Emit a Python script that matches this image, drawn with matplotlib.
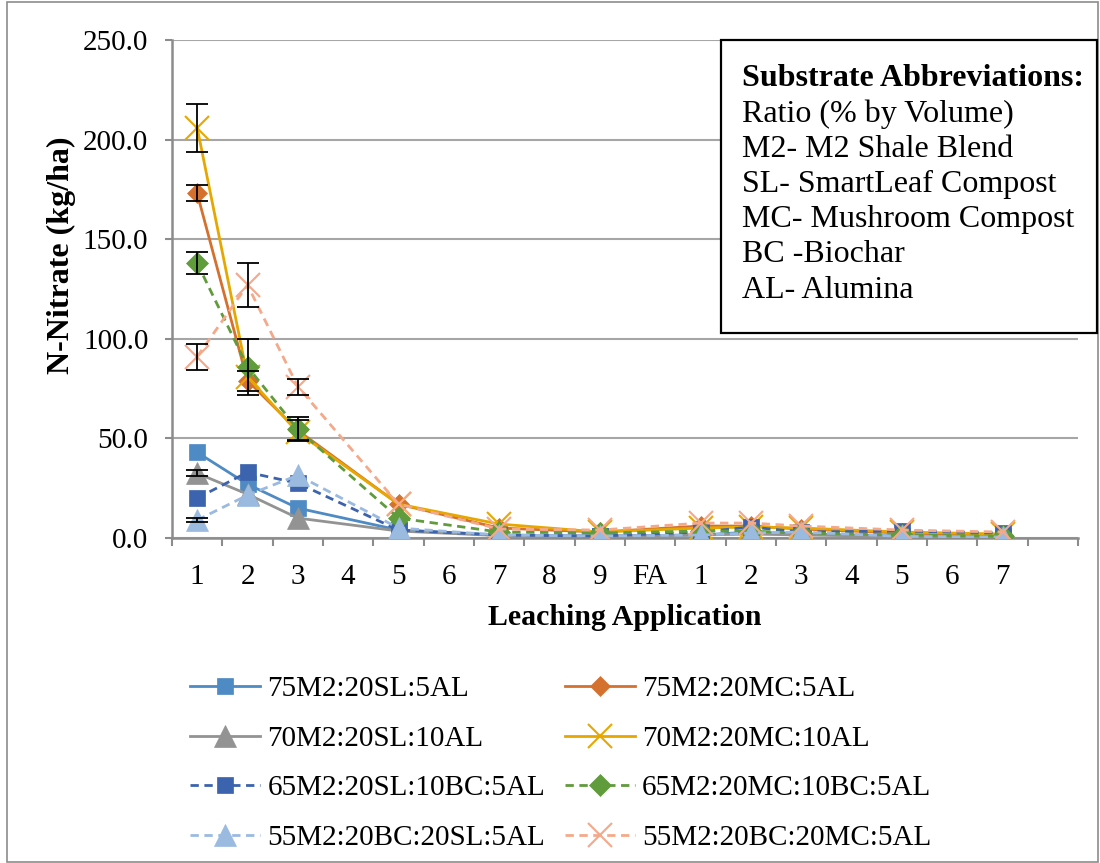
import numpy as np
import matplotlib
matplotlib.use('Agg')
import matplotlib.pyplot as plt
from matplotlib.patches import Rectangle

plt.rcParams['font.family'] = 'Liberation Serif'
plt.rcParams['font.size'] = 21

# x axis categories (last slot is an empty category, as in the original chart)
categories = ['1', '2', '3', '4', '5', '6', '7', '8', '9', 'FA',
              '1', '2', '3', '4', '5', '6', '7', '']
# leaching applications that were actually sampled (index into categories)
sampled = [0, 1, 2, 4, 6, 8, 10, 11, 12, 14, 16]

# N-Nitrate (kg/ha) for each substrate at the sampled applications
sl_5al = [43, 27, 15, 4, 1.5, 1.0, 1.5, 3.0, 2.0, 1.0, 0.8]
mc_5al = [173, 79, 54, 17, 5, 3, 6, 6, 4.5, 2.5, 1.5]
sl_10al = [32.5, 22, 10, 3.5, 1.2, 0.8, 1.5, 2.0, 1.5, 0.8, 0.5]
mc_10al = [206, 81, 53, 17, 7, 3, 5, 5.5, 5, 3, 2]
sl_bc = [20, 33, 27.5, 4, 1.5, 1, 3, 5.5, 3, 3.5, 2.5]
mc_bc = [138, 86, 54.5, 10, 3, 2.5, 3.5, 3.5, 2.5, 1.5, 1]
bc_sl = [9, 21.5, 31.5, 5, 1.5, 1, 1.5, 2.5, 3, 0.8, 0.5]
bc_mc = [91, 127, 76, 17, 4.5, 4, 7.5, 7.5, 6, 4, 3]

# standard errors
sl_5al_err = [0, 0, 0, 0, 0, 0, 0, 0, 0, 0, 0]
mc_5al_err = [4, 5, 5, 0, 0, 0, 0, 0, 0, 0, 0]
sl_10al_err = [1.5, 0, 0, 0, 0, 0, 0, 0, 0, 0, 0]
mc_10al_err = [12, 0, 0, 0, 0, 0, 0, 0, 0, 0, 0]
sl_bc_err = [0, 0, 0, 0, 0, 0, 0, 0, 0, 0, 0]
mc_bc_err = [5.5, 14, 6, 0, 0, 0, 0, 0, 0, 0, 0]
bc_sl_err = [1, 0, 0, 0, 0, 0, 0, 0, 0, 0, 0]
bc_mc_err = [6.5, 11, 4, 0, 0, 0, 0, 0, 0, 0, 0]

labels = ['75M2:20SL:5AL', '70M2:20SL:10AL', '65M2:20SL:10BC:5AL', '55M2:20BC:20SL:5AL',
          '75M2:20MC:5AL', '70M2:20MC:10AL', '65M2:20MC:10BC:5AL', '55M2:20BC:20MC:5AL']
values = [sl_5al, sl_10al, sl_bc, bc_sl, mc_5al, mc_10al, mc_bc, bc_mc]
errors = [sl_5al_err, sl_10al_err, sl_bc_err, bc_sl_err, mc_5al_err, mc_10al_err, mc_bc_err, bc_mc_err]
colors = ['#4E8AC3', '#939393', '#3C63AD', '#9BBAE0', '#D5712F', '#E6A800', '#609B3C', '#F4A98A']
markers = ['s', '^', 's', '^', 'D', 'x', 'D', 'x']
msizes = [11, 16, 11, 16, 10, 17, 11, 17]
styles = ['-', '-', (0, (3, 2)), (0, (3, 2)), '-', '-', (0, (3, 2)), (0, (3, 2))]

fig = plt.figure(figsize=(11, 8.63), dpi=100)
ax = fig.add_axes([172/1100, 1-538/863, (1078-172)/1100, (538-40)/863])

x = np.array(sampled) + 1
# draw in the Excel series order so the overlap looks the same
draw_order = [0, 4, 1, 5, 2, 6, 3, 7]
handles = {}
for k in draw_order:
    h, = ax.plot(x, values[k], color=colors[k], linestyle=styles[k], lw=2,
                 marker=markers[k], markersize=msizes[k], markerfacecolor=colors[k],
                 markeredgecolor=colors[k], markeredgewidth=1.5 if markers[k] == 'x' else 0.5,
                 label=labels[k], zorder=3)
    handles[k] = h
    err = np.array(errors[k])
    m = err > 0
    if m.any():
        ax.errorbar(x[m], np.array(values[k])[m], yerr=err[m], fmt='none', ecolor='black',
                    elinewidth=1.3, capsize=8, capthick=1.3, zorder=4)

ax.set_xlim(0.5, len(categories) + 0.5)
ax.set_ylim(0, 250)
ax.set_yticks(np.arange(0, 251, 50))
ax.yaxis.set_major_formatter(matplotlib.ticker.FormatStrFormatter('%.1f'))
ax.grid(axis='y', color='#A6A6A6', lw=1.5, zorder=0)
ax.set_axisbelow(True)

# category ticks between slots, labels at slot centres
ax.set_xticks(np.arange(0.5, len(categories) + 1, 1))
ax.set_xticklabels([])
ax.set_xticks(np.arange(1, len(categories) + 1), minor=True)
ax.set_xticklabels(categories, minor=True)
ax.tick_params(axis='x', which='major', direction='out', length=6, width=1.5, color='#8C8C8C')
ax.tick_params(axis='x', which='minor', length=0, pad=19)
ax.tick_params(axis='y', direction='out', length=5, width=1.5, color='#8C8C8C', pad=12)

for s in ['top', 'right']:
    ax.spines[s].set_visible(False)
for s in ['left', 'bottom']:
    ax.spines[s].set_color('#8C8C8C')
    ax.spines[s].set_linewidth(1.8)

ax.set_xlabel('Leaching Application', fontweight='bold', fontsize=21.5)
ax.xaxis.set_label_coords(0.5, -0.133)
ax.set_ylabel('N-Nitrate (kg/ha)', fontweight='bold', fontsize=23)
ax.yaxis.set_label_coords(-0.106, 0.568)

fig.legend([handles[k] for k in range(8)], labels, loc='upper left',
           bbox_to_anchor=(190/1100, 1-676/863), ncol=2, frameon=False,
           handlelength=2.4, handletextpad=0.25, columnspacing=0.68,
           labelspacing=0.79, borderpad=0, borderaxespad=0, numpoints=1)

# abbreviation box
fig.patches.append(Rectangle((721/1100, 1-333/863), (1097-721)/1100, (333-40)/863,
                             transform=fig.transFigure, facecolor='white',
                             edgecolor='black', lw=1.6, zorder=5))
abbrev = ['Substrate Abbreviations:', 'Ratio (% by Volume)', 'M2- M2 Shale Blend',
          'SL- SmartLeaf Compost', 'MC- Mushroom Compost', 'BC -Biochar', 'AL- Alumina']
for i, line in enumerate(abbrev):
    fig.text(742/1100, 1-(79+35.2*i)/863, line, ha='left', va='center', fontsize=23,
             fontweight='bold' if i == 0 else 'normal', zorder=6)

# chart area border
fig.patches.append(Rectangle((7/1100, 1/863), (1098-7)/1100, (861-1)/863,
                             transform=fig.transFigure, facecolor='none',
                             edgecolor='#8C8C8C', lw=1.2, zorder=1))

fig.savefig('out.png', dpi=100)
